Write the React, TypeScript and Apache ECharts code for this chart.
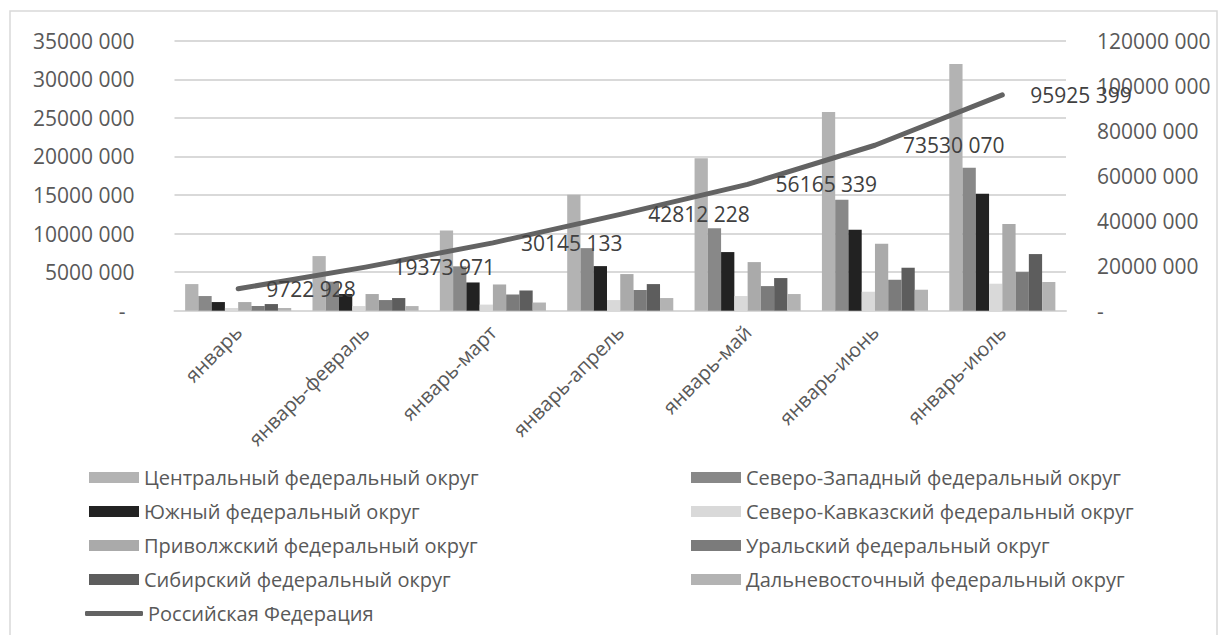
import React, { useEffect, useRef } from "react";
import * as echarts from "echarts";

const categories = [
  "январь",
  "январь-февраль",
  "январь-март",
  "январь-апрель",
  "январь-май",
  "январь-июнь",
  "январь-июль",
];

const central = [3450000, 7080000, 10400000, 15040000, 19770000, 25770000, 31980000];
const northwest = [1900000, 3760000, 5750000, 8110000, 10700000, 14370000, 18520000];
const south = [1120000, 2160000, 3660000, 5780000, 7600000, 10490000, 15150000];
const northCaucasus = [350000, 600000, 790000, 1380000, 1900000, 2460000, 3500000];
const volga = [1120000, 2160000, 3400000, 4750000, 6300000, 8670000, 11250000];
const ural = [600000, 1380000, 2100000, 2680000, 3190000, 4010000, 5010000];
const siberia = [860000, 1640000, 2620000, 3450000, 4230000, 5570000, 7340000];
const farEast = [350000, 600000, 1060000, 1640000, 2160000, 2720000, 3720000];
const russia = [9722928, 19373971, 30145133, 42812228, 56165339, 73530070, 95925399];

const barSeries = [
  { name: "Центральный федеральный округ", data: central, color: "#b3b3b3" },
  { name: "Северо-Западный федеральный округ", data: northwest, color: "#888888" },
  { name: "Южный федеральный округ", data: south, color: "#222222" },
  { name: "Северо-Кавказский федеральный округ", data: northCaucasus, color: "#d9d9d9" },
  { name: "Приволжский федеральный округ", data: volga, color: "#aaaaaa" },
  { name: "Уральский федеральный округ", data: ural, color: "#7b7b7b" },
  { name: "Сибирский федеральный округ", data: siberia, color: "#5d5d5d" },
  { name: "Дальневосточный федеральный округ", data: farEast, color: "#b3b3b3" },
];
const lineName = "Российская Федерация";

const FONT = "'Open Sans', 'Noto Sans', sans-serif";

function fmt(v: number): string {
  if (!v) return "-";
  const n = Math.round(v);
  const hi = Math.floor(n / 1000);
  const lo = n % 1000;
  return hi > 0 ? `${hi} ${String(lo).padStart(3, "0")}` : String(lo);
}

export default function App() {
  const ref = useRef<HTMLDivElement>(null);
  useEffect(() => {
    if (!ref.current) return;
    const chart = echarts.init(ref.current, undefined, { renderer: "svg" });
    const legendText = { color: "#595959", fontSize: 20, lineHeight: 20, fontFamily: FONT };
    const option: any = {
      animation: false,
      backgroundColor: "#ffffff",
      textStyle: { fontFamily: FONT },
      graphic: [
        {
          type: "rect",
          shape: { x: 10, y: 11, width: 1207, height: 700 },
          style: { fill: "none", stroke: "#d9d9d9", lineWidth: 1.5 },
          silent: true,
          z: -1,
        },
      ],
      grid: { left: 174.5, right: 162, top: 40.7, bottom: 324.3, containLabel: false },
      xAxis: {
        type: "category",
        data: categories,
        axisLine: { show: true, lineStyle: { color: "#d9d9d9", width: 2 } },
        axisTick: { show: false },
        axisLabel: {
          rotate: 45,
          margin: 18,
          interval: 0,
          color: "#595959",
          fontSize: 20,
          fontFamily: FONT,
        },
      },
      yAxis: [
        {
          type: "value",
          min: 0,
          max: 35000000,
          interval: 5000000,
          axisLine: { show: false },
          axisTick: { show: false },
          splitLine: { show: true, lineStyle: { color: "#d9d9d9", width: 2 } },
          axisLabel: {
            margin: 40,
            color: "#595959",
            fontSize: 21,
            fontFamily: FONT,
            formatter: (v: number) => (v === 0 ? "{z|-}" : fmt(v)),
            rich: { z: { padding: [0, 9, 0, 0], color: "#595959", fontSize: 21, fontFamily: FONT } },
          },
        },
        {
          type: "value",
          min: 0,
          max: 120000000,
          interval: 20000000,
          position: "right",
          axisLine: { show: false },
          axisTick: { show: false },
          splitLine: { show: false },
          axisLabel: {
            margin: 31,
            color: "#595959",
            fontSize: 21,
            fontFamily: FONT,
            formatter: (v: number) => fmt(v),
          },
        },
      ],
      legend: [
        {
          orient: "vertical",
          left: 89,
          top: 467.5,
          padding: 0,
          itemWidth: 50,
          itemHeight: 11,
          itemGap: 14,
          icon: "rect",
          selectedMode: false,
          textStyle: legendText,
          data: [barSeries[0].name, barSeries[2].name, barSeries[4].name, barSeries[6].name],
        },
        {
          orient: "vertical",
          left: 691,
          top: 467.5,
          padding: 0,
          itemWidth: 50,
          itemHeight: 11,
          itemGap: 14,
          icon: "rect",
          selectedMode: false,
          textStyle: legendText,
          data: [barSeries[1].name, barSeries[3].name, barSeries[5].name, barSeries[7].name],
        },
        {
          orient: "vertical",
          left: 85,
          top: 603.5,
          padding: 0,
          itemWidth: 58,
          itemHeight: 5,
          icon: "roundRect",
          selectedMode: false,
          textStyle: legendText,
          data: [lineName],
        },
      ],
      series: [
        ...barSeries.map((s) => ({
          name: s.name,
          type: "bar",
          data: s.data,
          barGap: "0%",
          barCategoryGap: "16.7%",
          itemStyle: { color: s.color },
          yAxisIndex: 0,
        })),
        {
          name: lineName,
          type: "line",
          yAxisIndex: 1,
          data: russia,
          symbol: "circle",
          symbolSize: 0.01,
          showSymbol: true,
          itemStyle: { color: "#636363" },
          lineStyle: { color: "#636363", width: 5, cap: "round", join: "round" },
          label: {
            show: true,
            position: "right",
            distance: 28,
            color: "#404040",
            fontSize: 21,
            fontFamily: FONT,
            formatter: (p: any) => fmt(p.value),
          },
          z: 5,
        },
      ],
    };
    chart.setOption(option);
    return () => chart.dispose();
  }, []);
  return (
    <div
      ref={ref}
      style={{ position: "absolute", left: 0, top: 0, width: 1228, height: 635 }}
    />
  );
}
